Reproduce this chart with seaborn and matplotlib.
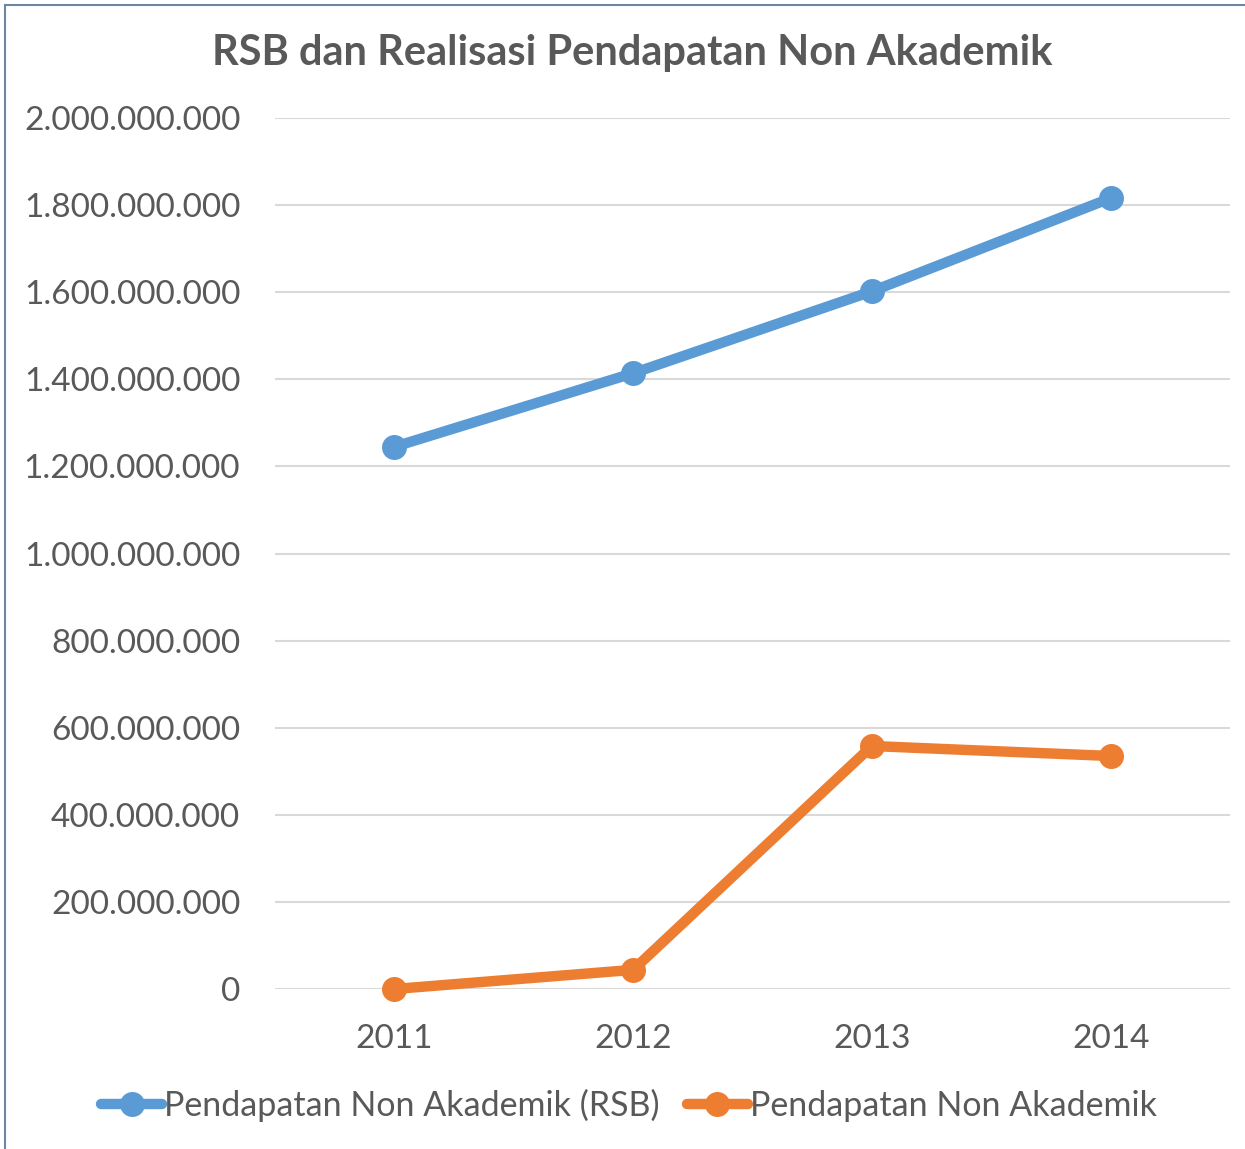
import numpy as np
import pandas as pd
import seaborn as sns
import matplotlib.pyplot as plt
from matplotlib.ticker import FuncFormatter, MultipleLocator
from matplotlib.patches import Rectangle

years = ["2011", "2012", "2013", "2014"]
rsb = [1245000000, 1414000000, 1602000000, 1816000000]
realisasi = [0, 44000000, 558000000, 535000000]
series = ["Pendapatan Non Akademik (RSB)", "Pendapatan Non Akademik"]
colors = ["#5b9bd5", "#ed7d31"]

df = pd.DataFrame({
    "tahun": years * 2,
    "nilai": rsb + realisasi,
    "seri": [series[0]] * 4 + [series[1]] * 4,
})

sns.set_theme(style="white")
plt.rcParams["font.family"] = ["Lato", "DejaVu Sans"]
txt = "#595959"

fig = plt.figure(figsize=(12.45, 11.49), dpi=100)
ax = fig.add_axes([275 / 1245, 1 - 989 / 1149, 955 / 1245, 871 / 1149])

sns.lineplot(
    data=df, x="tahun", y="nilai", hue="seri", palette=colors,
    marker="o", markersize=18, markeredgewidth=0, linewidth=7.5,
    ax=ax, legend=True, sort=False,
)

ax.set_xlim(-0.5, 3.5)
ax.set_ylim(0, 2000000000)
ax.yaxis.set_major_locator(MultipleLocator(200000000))
ax.yaxis.set_major_formatter(FuncFormatter(lambda v, p: f"{v:,.0f}".replace(",", ".")))
ax.grid(axis="y", color="#d9d9d9", linewidth=1.5)
ax.set_axisbelow(True)
for s in ax.spines.values():
    s.set_visible(False)
ax.set_xlabel("")
ax.set_ylabel("")
ax.tick_params(axis="both", length=0, labelsize=24, colors=txt)
ax.tick_params(axis="y", pad=25)
ax.tick_params(axis="x", pad=25)
for ln in ax.lines:
    ln.set_clip_on(False)

handles, labels = ax.get_legend_handles_labels()
ax.get_legend().remove()
leg = fig.legend(
    handles, labels, loc="center", bbox_to_anchor=(0.505, 1 - 1105 / 1149),
    ncol=2, frameon=False, fontsize=24.5, handlelength=1.8, handletextpad=0.05,
    columnspacing=0.8, labelcolor=txt,
)

fig.text(0.508, 1 - 53 / 1149, "RSB dan Realisasi Pendapatan Non Akademik",
         ha="center", va="center", fontsize=30, fontweight="bold", color=txt)

fig.patches.append(Rectangle((5 / 1245, -0.01), 1.1, 1 - 5 / 1149 + 0.01,
                             transform=fig.transFigure, fill=False,
                             edgecolor="#6d87a3", linewidth=1.5))

fig.savefig("out.png", dpi=100)
